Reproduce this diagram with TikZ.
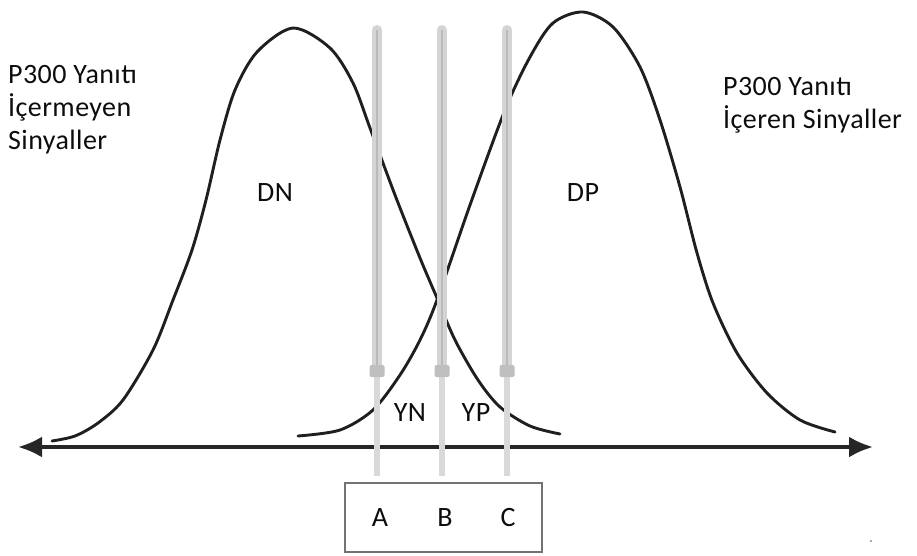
\documentclass[tikz,border=0pt]{standalone}
\usepackage{fontspec}
\setmainfont{Carlito}[LetterSpace=1.5]
\usetikzlibrary{arrows.meta}
\begin{document}
\begin{tikzpicture}[x=1pt,y=-1pt,
  curve/.style={line width=2.9pt, color=black!88, line join=round, line cap=round},
  axisline/.style={line width=3.6pt, color=black!85, {Latex[length=24pt,width=21pt]}-{Latex[length=24pt,width=21pt]}},
  barst/.style={line width=10pt, color=black!17, line cap=round},
  barcore/.style={line width=1.5pt, color=black!27},
  stemst/.style={line width=6pt, color=black!15},
  bumpst/.style={fill=black!25, draw=none, minimum width=15pt, minimum height=12pt, inner sep=0pt, rounded corners=2pt},
  lbl/.style={font=\fontsize{28}{33}\selectfont, text=black!95, inner sep=0pt},
  boxst/.style={draw=black!55, line width=1.8pt, inner sep=0pt, minimum width=197pt, minimum height=69pt}
]
\useasboundingbox (0,0) rectangle (917,556);

% curves
\draw[curve] plot[smooth] coordinates {(52,441) (75,436) (98,423) (123,400) (153,350) (173,300) (192,250) (206,200) (220,140) (235,90) (257,52) (293,28) (330,48) (353,83) (370,128) (395,195) (420,258) (437,298) (455,340) (478,380) (500,407) (530,426) (560,434)};
\draw[curve] plot[smooth] coordinates {(298,436) (340,430) (373,410) (400,375) (420,340) (437,300) (470,205) (505,110) (530,57) (553,23) (583,12) (613,27) (640,67) (660,120) (680,187) (697,253) (713,303) (737,353) (767,393) (800,420) (835,432)};

% axis
\coordinate (axL) at (18,447);
\coordinate (axR) at (873,447);
\draw[axisline] (axL) -- (axR);

% bars
\foreach \n/\x in {A/377,B/442,C/507}{
  \coordinate (top\n) at (\x,30);
  \coordinate (mid\n) at (\x,371);
  \coordinate (bot\n) at (\x,476);
  \draw[stemst] (mid\n) -- (bot\n);
  \draw[barst] (top\n) -- (mid\n);
  \draw[barcore] (top\n) -- (mid\n);
  \node[bumpst] (bump\n) at (mid\n) {};
}

% box
\node[boxst] (box) at (443.5,517.5) {};
\node[lbl] (A) at (380,518) {A};
\node[lbl] (B) at (445,518) {B};
\node[lbl] (C) at (508,518) {C};

% labels
\node[lbl] (DN) at (275,193) {DN};
\node[lbl] (DP) at (583,193) {DP};
\node[lbl] (YN) at (410,413) {YN};
\node[lbl] (YP) at (476,413) {YP};

\node[lbl, anchor=north west, align=left] (left) at (8,65) {P300 Yanıtı\\İçermeyen\\Sinyaller};
\node[lbl, anchor=north west, align=left] (right) at (723,77) {P300 Yanıtı\\İçeren Sinyaller};

\fill[black!45] (871,541) circle (1.2pt);
\end{tikzpicture}
\end{document}
